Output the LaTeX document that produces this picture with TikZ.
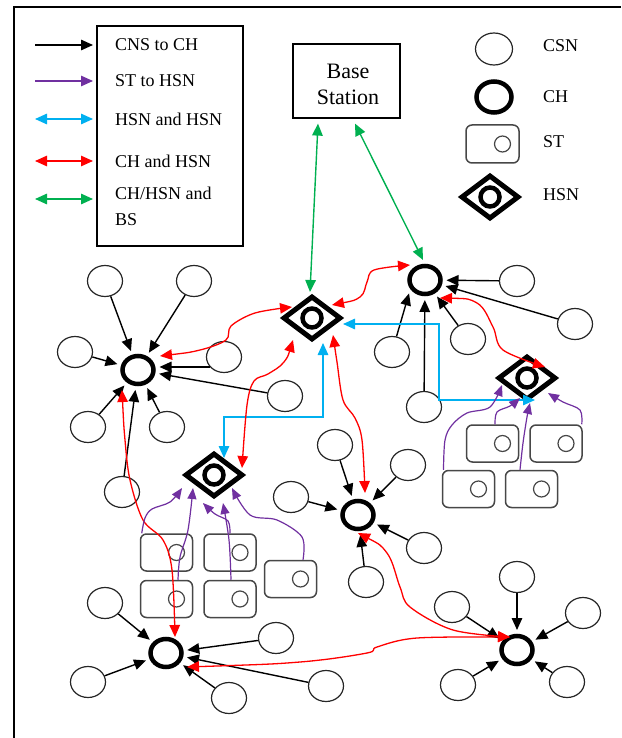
\documentclass[tikz,border=0pt]{standalone}
\usepackage{fontspec}
\setmainfont{Liberation Serif}
\usetikzlibrary{shapes.geometric,arrows.meta}
\definecolor{pur}{HTML}{7030A0}
\definecolor{cya}{HTML}{00B0F0}
\definecolor{grn}{HTML}{00B050}
\definecolor{rd1}{HTML}{FF0000}
\begin{document}
\begin{tikzpicture}[x=1pt,y=-1pt,
  csn/.style={ellipse, draw=black!85, line width=1.2pt, minimum width=35pt, minimum height=31pt, inner sep=0pt},
  chn/.style={ellipse, draw, line width=4.5pt, minimum width=31pt, minimum height=28pt, inner sep=0pt, outer sep=6pt},
  hsn/.style={diamond, draw, line width=5pt, minimum width=58pt, minimum height=44pt, inner sep=0pt,
    path picture={\draw[line width=4.5pt] (path picture bounding box.center) circle (9.5pt);}},
  stn/.style={rectangle, rounded corners=6pt, draw=black!72, line width=1.5pt, minimum width=52pt, minimum height=37pt, inner sep=0pt,
    path picture={\draw[line width=1.2pt, black!72] ([xshift=10pt]path picture bounding box.center) circle (8pt);}},
  txt/.style={font=\fontsize{18}{26}\selectfont, inner sep=0pt, anchor=west, align=left},
  tipA/.tip={Triangle[length=12pt,width=10.5pt]},
  blk/.style={line width=1.4pt, -tipA},
  pu/.style={pur, line width=1.2pt, -{Triangle[length=11pt,width=9pt]}},
  rd/.style={rd1, line width=1.3pt, tipA-tipA},
  cy/.style={cya, line width=1.4pt, tipA-tipA},
  gr/.style={grn, line width=1.4pt, tipA-tipA}
]
\useasboundingbox (0,0) rectangle (621,738);
% frame
\draw[line width=1.5pt] (14,738) -- (14,7) -- (621,7);

% ---------- legend (left) ----------
\node[draw, line width=1.2pt, minimum width=146pt, minimum height=220pt, inner sep=0pt] (lg) at (170,136) {};
\node[txt] (t1) at (115,45) {CNS to CH};
\node[txt] (t2) at (115,81) {ST to HSN};
\node[txt] (t3) at (115,119) {HSN and HSN};
\node[txt] (t4) at (115,161) {CH and HSN};
\node[txt, anchor=north west] (t5) at (115,187) {CH/HSN and\\BS};
\coordinate (t5a) at (115,199);
\draw[blk] ([xshift=-80pt]t1.west) -- ([xshift=-22pt]t1.west);
\draw[pu, -tipA] ([xshift=-80pt]t2.west) -- ([xshift=-22pt]t2.west);
\draw[cy] ([xshift=-80pt]t3.west) -- ([xshift=-22pt]t3.west);
\draw[rd] ([xshift=-80pt]t4.west) -- ([xshift=-22pt]t4.west);
\draw[gr] ([xshift=-80pt]t5a) -- ([xshift=-22pt]t5a);

% ---------- legend (right) ----------
\node[csn, minimum width=37pt, minimum height=32pt] (lcsn) at (494,49) {};
\node[chn, minimum width=35pt, minimum height=31pt] (lch) at (494,97) {};
\node[stn, minimum width=53pt, minimum height=38pt] (lst) at (492.5,144) {};
\node[hsn] (lhsn) at (490,197) {};
\node[txt] at (543,46) {CSN};
\node[txt] at (543,97) {CH};
\node[txt] at (543,142) {ST};
\node[txt] at (543,195) {HSN};

% ---------- base station ----------
\node[draw, line width=1.2pt, minimum width=107pt, minimum height=74pt, inner sep=0pt] (bs) at (346.5,81) {};
\node[align=center, inner sep=0pt, font=\fontsize{22}{26}\selectfont] (bst) at (348,84) {Base\\Station};

% ---------- CH nodes ----------
\node[chn] (ch1) at (138,370) {};
\node[chn] (ch2) at (425,280) {};
\node[chn] (ch3) at (358,515) {};
\node[chn] (ch4) at (166,653) {};
\node[chn] (ch5) at (517,650) {};

% ---------- HSN nodes ----------
\node[hsn] (h1) at (312,318) {};
\node[hsn] (h2) at (214,475) {};
\node[hsn] (h3) at (527,378) {};

% ---------- ST nodes ----------
\node[stn] (ste) at (166.5,552.5) {};
\node[stn] (stf) at (230,552.5) {};
\node[stn] (stg) at (166.5,599) {};
\node[stn] (sth) at (230,599) {};
\node[stn] (sti) at (290.5,579) {};
\node[stn] (sta) at (492.5,443.5) {};
\node[stn] (stb) at (556,443.5) {};
\node[stn] (stc) at (468.5,489) {};
\node[stn] (std) at (531.5,489) {};

% ---------- CSN nodes ----------
\node[csn] (c1) at (105,281) {};
\node[csn] (c2) at (194,281) {};
\node[csn] (c3) at (75,352) {};
\node[csn] (c4) at (224,357) {};
\node[csn] (c5) at (285,396) {};
\node[csn] (c6) at (88,427) {};
\node[csn] (c7) at (167,427) {};
\node[csn] (c8) at (122,492) {};
\node[csn] (c9) at (517,281) {};
\node[csn] (c10) at (575,324) {};
\node[csn] (c11) at (392,352) {};
\node[csn] (c12) at (468,339) {};
\node[csn] (c13) at (424,407) {};
\node[csn] (c14) at (335,445) {};
\node[csn] (c15) at (408,465) {};
\node[csn] (c16) at (291,497) {};
\node[csn] (c17) at (424,548) {};
\node[csn] (c18) at (366,582) {};
\node[csn] (c19) at (105,603) {};
\node[csn] (c20) at (88,682) {};
\node[csn] (c21) at (229,698) {};
\node[csn] (c22) at (276,638) {};
\node[csn] (c23) at (326,686) {};
\node[csn] (c24) at (517,577) {};
\node[csn] (c25) at (452,607) {};
\node[csn] (c26) at (583,613) {};
\node[csn] (c27) at (458,685) {};
\node[csn] (c28) at (567,682) {};

% ---------- CSN -> CH ----------
\foreach \c in {c1,c2,c3,c5,c6,c7,c8} \draw[blk] (\c) -- (ch1);
\draw[blk] (c4.215) -- (c4.215 -| ch1.east);
\foreach \c in {c9,c10,c12,c13} \draw[blk] (\c) -- (ch2);
\draw[blk] (c11) -- (ch2.220);
\foreach \c in {c14,c15,c16,c17,c18} \draw[blk] (\c) -- (ch3);
\foreach \c in {c19,c20,c21,c22,c23} \draw[blk] (\c) -- (ch4);
\foreach \c in {c24,c25,c26,c27,c28} \draw[blk] (\c) -- (ch5);

% ---------- connector end points ----------
\coordinate (h1a) at ([shift={(-20,-11)}]h1.center);
\coordinate (h1b) at ([shift={(20,-13)}]h1.center);
\coordinate (h1c) at ([shift={(-19,22)}]h1.center);
\coordinate (h1d) at ([shift={(21,17)}]h1.center);
\coordinate (h1e) at ([shift={(11,25)}]h1.center);
\coordinate (h1f) at ([shift={(31,6)}]h1.center);
\coordinate (h1g) at ([shift={(-2,-26)}]h1.center);
\coordinate (h2a) at ([shift={(28,-7)}]h2.center);
\coordinate (h2b) at ([shift={(10,-17)}]h2.center);
\coordinate (h2p1) at ([shift={(-32,13)}]h2.center);
\coordinate (h2p2) at ([shift={(-21,13)}]h2.center);
\coordinate (h2p3) at ([shift={(-11,28)}]h2.center);
\coordinate (h2p4) at ([shift={(9,28)}]h2.center);
\coordinate (h2p5) at ([shift={(18,13)}]h2.center);
\coordinate (h3a) at ([shift={(18,-11)}]h3.center);
\coordinate (h3b) at ([shift={(8,22)}]h3.center);
\coordinate (h3p1) at ([shift={(-25,7)}]h3.center);
\coordinate (h3p2) at ([shift={(-7,20)}]h3.center);
\coordinate (h3p3) at ([shift={(3,25)}]h3.center);
\coordinate (h3p4) at ([shift={(21,15)}]h3.center);
\coordinate (ch1a) at ([shift={(22,-14)}]ch1.center);
\coordinate (ch1b) at ([shift={(-16,20)}]ch1.center);
\coordinate (ch2a) at ([shift={(-15,-15)}]ch2.center);
\coordinate (ch2b) at ([shift={(15,18)}]ch2.center);
\coordinate (ch2c) at ([shift={(-2,-20)}]ch2.center);
\coordinate (ch3a) at ([shift={(7,-22)}]ch3.center);
\coordinate (ch3b) at ([shift={(0,18)}]ch3.center);
\coordinate (ch4a) at ([shift={(9,-16)}]ch4.center);
\coordinate (ch4b) at ([shift={(21,14)}]ch4.center);
\coordinate (ch5a) at ([shift={(-7,-13)}]ch5.center);
\coordinate (bsa) at ([shift={(-28.5,5)}]bs.south);
\coordinate (bsb) at ([shift={(8.5,5)}]bs.south);
\coordinate (se) at ([xshift=2pt]ste.north west);
\coordinate (sg) at ([xshift=11.5pt]stg.north);
\coordinate (sf) at (stf.north);
\coordinate (sh) at ([xshift=1pt]sth.north);
\coordinate (si) at ([xshift=12.5pt]sti.north);
\coordinate (sc) at ([xshift=-25pt]stc.north);
\coordinate (sa) at ([xshift=2.5pt]sta.north);
\coordinate (sd) at ([xshift=-11.5pt]std.north);
\coordinate (sb) at ([xshift=-1pt]stb.north east);

% ---------- green ----------
\draw[gr] (bsa) -- (h1g);
\draw[gr] (bsb) -- (ch2c);

% ---------- cyan ----------
\draw[cy] (h1e) -- ++(0,74) -| (h2b);
\draw[cy] (h1f) -| (439,400) -- (h3b);

% ---------- red ----------
\draw[rd] plot[smooth, tension=0.55] coordinates {(ch1a) (200,350) (226,340) (231,326) (255,313) (h1a)};
\draw[rd] plot[smooth, tension=0.55] coordinates {(h1c) (284,362) (268,374) (254,381) (247,405) (h2a)};
\draw[rd] plot[smooth, tension=0.55] coordinates {(h1b) (360,297) (367,282) (374,270) (ch2a)};
\draw[rd] plot[smooth, tension=0.55] coordinates {(h1d) (337,362) (343,400) (355,418) (362,440) (ch3a)};
\draw[rd] plot[smooth, tension=0.55] coordinates {(ch2b) (477,303) (493,327) (503,350) (h3a)};
\draw[rd] plot[smooth, tension=0.55] coordinates {(ch1b) (125,440) (130,480) (143,520) (163,540) (172,570) (ch4a)};
\draw[rd] plot[smooth, tension=0.55] coordinates {(ch3b) (387,553) (400,587) (410,607) (453,630) (ch5a)};
\draw[rd] plot[smooth, tension=0.55] coordinates {(ch4b) (300,662) (367,653) (377,647) (417,638) (ch5a)};

% ---------- purple ----------
\draw[pu] plot[smooth, tension=0.55] coordinates {(se) (145,518) (152,509) (170,502) (h2p1)};
\draw[pu] plot[smooth, tension=0.55] coordinates {(sg) (180,557) (188,530) (h2p2)};
\draw[pu] plot[smooth, tension=0.55] coordinates {(sf) (228,521) (215,514) (h2p3)};
\draw[pu] plot[smooth, tension=0.55] coordinates {(sh) (229,540) (h2p4)};
\draw[pu] plot[smooth, tension=0.55] coordinates {(si) (302,537) (277,520) (250,515) (h2p5)};
\draw[pu] plot[smooth, tension=0.55] coordinates {(sc) (445,440) (452,425) (467,413) (490,407) (h3p1)};
\draw[pu] plot[smooth, tension=0.55] coordinates {(sa) (497,412) (510,406) (h3p2)};
\draw[pu] plot[smooth, tension=0.55] coordinates {(sd) (523,443) (527,417) (h3p3)};
\draw[pu] plot[smooth, tension=0.55] coordinates {(sb) (580,410) (563,402) (h3p4)};
\end{tikzpicture}
\end{document}
